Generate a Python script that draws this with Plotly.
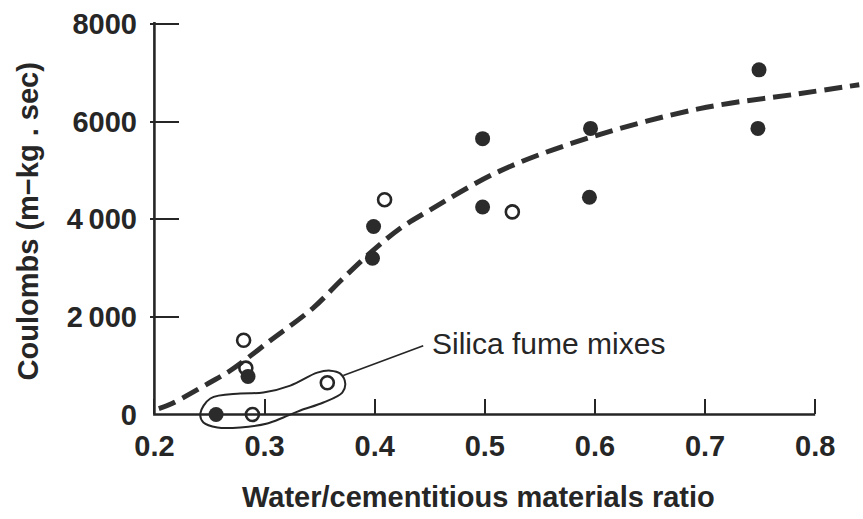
import plotly.graph_objects as go

# Measured chloride permeability (charge passed) vs. water/cementitious ratio
solid_wcm = [0.256, 0.285, 0.399, 0.398, 0.498, 0.498, 0.596, 0.595, 0.749, 0.748]
solid_coul = [0, 780, 3850, 3200, 5650, 4250, 5860, 4450, 7060, 5860]

open_wcm = [0.289, 0.357, 0.281, 0.283, 0.409, 0.525]
open_coul = [0, 650, 1520, 950, 4400, 4150]

# Trend line through the data
trend_wcm = [0.204, 0.216, 0.25, 0.269, 0.305, 0.344, 0.37, 0.398, 0.423, 0.448,
             0.513, 0.592, 0.695, 0.785, 0.84]
trend_coul = [120, 225, 650, 900, 1510, 2180, 2760, 3350, 3810, 4160,
              4980, 5650, 6265, 6570, 6755]

# Outline grouping the silica fume mixes, and its leader line
group_wcm = [0.2417, 0.2508, 0.278, 0.2989, 0.3234, 0.3479, 0.3597, 0.3688, 0.3733,
             0.3706, 0.3534, 0.3325, 0.3171, 0.3025, 0.278, 0.2572, 0.2445, 0.2417]
group_coul = [20, 327, 429, 449, 592, 857, 898, 837, 633,
              449, 245, 82, -61, -184, -265, -265, -163, 20]
leader_wcm = [0.3715, 0.4441]
leader_coul = [796, 1408]

x_ticks = [0.2, 0.3, 0.4, 0.5, 0.6, 0.7, 0.8]
x_labels = ["0.2", "0.3", "0.4", "0.5", "0.6", "0.7", "0.8"]
y_ticks = [0, 2000, 4000, 6000, 8000]
y_labels = ["0", "2\u2009000", "4\u2009000", "6000", "8000"]

INK = "#262626"
FONT = "Liberation Sans"
Y_LOW, Y_TOP = -400, 8040
X_MIN, X_MAX = 0.196, 0.8434
ZERO_POS = (0 - Y_LOW) / (Y_TOP - Y_LOW)

# Axis frame: vertical axis at x = 0.2 up to the top tick, horizontal axis 0.2..0.8
frame_x = [0.2, 0.2, 0.8]
frame_y = [Y_TOP, 0, 0]

fig = go.Figure()

# Frame axes (x / y): ticks and tick labels
fig.add_trace(go.Scatter(x=[0.2], y=[0], mode="markers", xaxis="x", yaxis="y",
                         marker=dict(opacity=0), hoverinfo="skip", showlegend=False))

# Data drawn on x2 / y2, a taller plot area sharing the same scale,
# so the outline can dip below zero without being clipped.
common = dict(xaxis="x2", yaxis="y2", showlegend=False)

fig.add_trace(go.Scatter(
    x=frame_x, y=frame_y, mode="lines",
    line=dict(color=INK, width=2.6), hoverinfo="skip", **common))

fig.add_trace(go.Scatter(
    x=group_wcm, y=group_coul, mode="lines",
    line=dict(color=INK, width=2, shape="spline", smoothing=1.0),
    hoverinfo="skip", **common))
fig.add_trace(go.Scatter(
    x=leader_wcm, y=leader_coul, mode="lines",
    line=dict(color=INK, width=1.6), hoverinfo="skip", **common))

fig.add_trace(go.Scatter(
    x=trend_wcm, y=trend_coul, mode="lines",
    line=dict(color="#303030", width=5, dash="18px,8px", shape="spline", smoothing=1.0),
    **common))

fig.add_trace(go.Scatter(
    x=open_wcm, y=open_coul, mode="markers", cliponaxis=False,
    marker=dict(symbol="circle-open", size=13, color=INK, line=dict(color=INK, width=2.6)),
    **common))
fig.add_trace(go.Scatter(
    x=solid_wcm, y=solid_coul, mode="markers", cliponaxis=False,
    marker=dict(symbol="circle", size=15, color="#2b2b2b", line=dict(width=0)),
    **common))

tick_font = dict(family=FONT, size=29, color=INK, weight="bold")

fig.update_layout(
    width=863, height=519,
    margin=dict(l=150, r=0, t=22, b=85),
    paper_bgcolor="white", plot_bgcolor="rgba(0,0,0,0)",
    xaxis=dict(range=[X_MIN, X_MAX], domain=[0, 1], anchor="y",
               showgrid=False, zeroline=False, showline=False,
               tickvals=x_ticks, ticktext=x_labels,
               ticks="inside", ticklen=15, tickwidth=1.6, tickcolor=INK,
               ticklabelstandoff=12, tickfont=tick_font),
    yaxis=dict(range=[0, Y_TOP], domain=[ZERO_POS, 1], anchor="x",
               showgrid=False, zeroline=False, showline=False,
               tickvals=y_ticks, ticktext=y_labels,
               ticks="inside", ticklen=29, tickwidth=1.6, tickcolor=INK,
               ticklabelstandoff=12, tickfont=tick_font),
    xaxis2=dict(range=[X_MIN, X_MAX], domain=[0, 1], anchor="y2", visible=False),
    yaxis2=dict(range=[Y_LOW, Y_TOP], domain=[0, 1], anchor="x2", visible=False),
    annotations=[
        dict(text="Water/cementitious materials ratio", xref="paper", yref="paper",
             x=(478 - 150) / 713, y=(433.6 - 497) / 412, showarrow=False,
             xanchor="center", yanchor="middle",
             font=dict(family=FONT, size=29, color=INK, weight="bold")),
        dict(text="Coulombs (m\u2212kg . sec)", xref="paper", yref="paper",
             x=(28 - 150) / 713, y=(433.6 - 221) / 412, showarrow=False, textangle=-90,
             xanchor="center", yanchor="middle",
             font=dict(family=FONT, size=29, color=INK, weight="bold")),
        dict(text="Silica fume mixes", xref="x2", yref="y2",
             x=0.4505, y=1449, showarrow=False, xanchor="left", yanchor="middle",
             font=dict(family=FONT, size=30, color=INK)),
    ],
)

fig.write_html("out.html")
